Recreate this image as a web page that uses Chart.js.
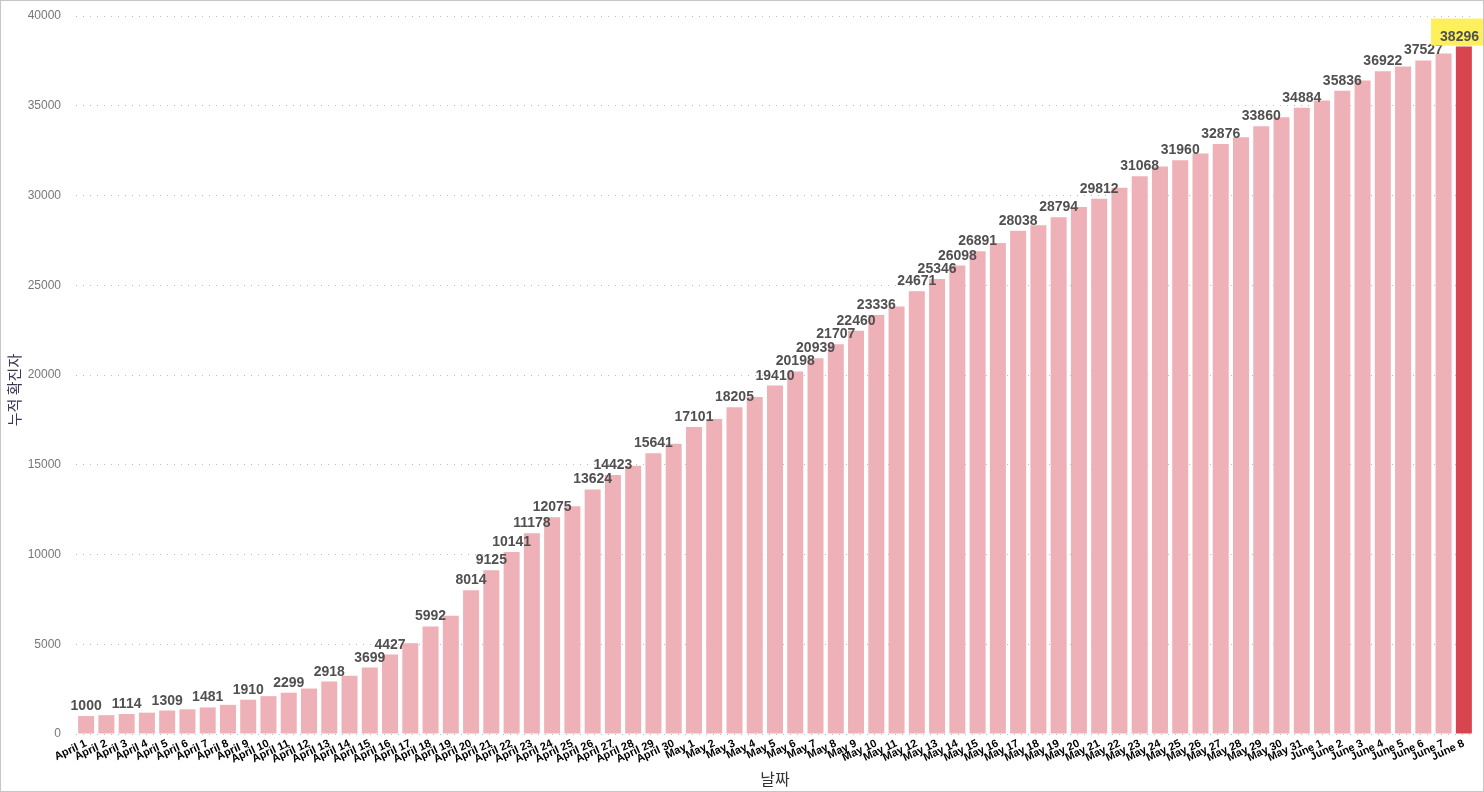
<!DOCTYPE html>
<html>
<head>
<meta charset="utf-8">
<script src="https://cdn.jsdelivr.net/npm/chart.js@4"></script>
<style>
  html, body { margin: 0; padding: 0; background: #fff; }
  #wrap { width: 1484px; height: 792px; box-sizing: border-box; border: 1px solid #c6c6c6; }
  canvas { display: block; }
</style>
</head>
<body>
<div id="wrap"><canvas id="casesChart" width="1482" height="790"></canvas></div>
<script>
// === DATA ===
const dates = [
    'April 1', 'April 2', 'April 3', 'April 4', 'April 5', 'April 6', 'April 7', 'April 8', 'April 9', 'April 10',
    'April 11', 'April 12', 'April 13', 'April 14', 'April 15', 'April 16', 'April 17', 'April 18', 'April 19', 'April 20',
    'April 21', 'April 22', 'April 23', 'April 24', 'April 25', 'April 26', 'April 27', 'April 28', 'April 29', 'April 30',
    'May 1', 'May 2', 'May 3', 'May 4', 'May 5', 'May 6', 'May 7', 'May 8', 'May 9', 'May 10',
    'May 11', 'May 12', 'May 13', 'May 14', 'May 15', 'May 16', 'May 17', 'May 18', 'May 19', 'May 20',
    'May 21', 'May 22', 'May 23', 'May 24', 'May 25', 'May 26', 'May 27', 'May 28', 'May 29', 'May 30', 'May 31',
    'June 1', 'June 2', 'June 3', 'June 4', 'June 5', 'June 6', 'June 7', 'June 8'
];
const cases = [
    1000, 1049, 1114, 1189, 1309, 1375, 1481, 1623, 1910, 2108,
    2299, 2532, 2918, 3252, 3699, 4427, 5050, 5992, 6588, 8014,
    9125, 10141, 11178, 12075, 12693, 13624, 14423, 14951, 15641, 16169,
    17101, 17548, 18205, 18778, 19410, 20198, 20939, 21707, 22460, 23336,
    23822, 24671, 25346, 26098, 26891, 27356, 28038, 28343, 28794, 29364,
    29812, 30426, 31068, 31616, 31960, 32343, 32876, 33249, 33860, 34366, 34884,
    35292, 35836, 36405, 36922, 37183, 37527, 37910, 38296
];
// bars that carry a value label
const labeledDates = [
    'April 1', 'April 3', 'April 5', 'April 7', 'April 9', 'April 11', 'April 13', 'April 15', 'April 16',
    'April 18', 'April 20', 'April 21', 'April 22', 'April 23', 'April 24', 'April 26', 'April 27', 'April 29',
    'May 1', 'May 3', 'May 5', 'May 6', 'May 7', 'May 8', 'May 9', 'May 10', 'May 12', 'May 13', 'May 14',
    'May 15', 'May 17', 'May 19', 'May 21', 'May 23', 'May 25', 'May 27', 'May 29', 'May 31',
    'June 2', 'June 4', 'June 6', 'June 8'
];
const highlightDate = 'June 8';
const yTicks = [0, 5000, 10000, 15000, 20000, 25000, 30000, 35000, 40000];
const yTitle = '누적 확진자';
const xTitle = '날짜';

const barColor = '#eeb1b7';
const highlightColor = '#d9454f';

// value labels above bars + y axis title
const valueLabels = {
    id: 'valueLabels',
    afterDatasetsDraw(chart) {
        const ctx = chart.ctx;
        const meta = chart.getDatasetMeta(0);
        ctx.save();
        ctx.font = 'bold 14px "Liberation Sans", Arial, sans-serif';
        ctx.textAlign = 'center';
        ctx.textBaseline = 'alphabetic';
        dates.forEach((d, i) => {
            if (!labeledDates.includes(d)) return;
            const bar = meta.data[i];
            const text = String(cases[i]);
            const y = bar.y - 6;
            let x = bar.x;
            if (d === highlightDate) {
                const tw = ctx.measureText(text).width;
                // keep the label inside the canvas, like the original
                x = Math.min(x, chart.width - 4 - tw / 2);
                ctx.fillStyle = '#fdf05a';
                ctx.fillRect(x - tw / 2 - 9, y - 22, tw + 30, 27);
            }
            ctx.fillStyle = '#505050';
            ctx.fillText(text, x, y);
        });

        // y title, a bit below the middle as in the original
        ctx.translate(13, 389);
        ctx.rotate(-Math.PI / 2);
        ctx.font = '15px "Noto Sans CJK KR", sans-serif';
        ctx.fillStyle = '#3f3557';
        ctx.textBaseline = 'middle';
        ctx.fillText(yTitle, 0, 0);
        ctx.restore();
    }
};

document.addEventListener('DOMContentLoaded', () => {
    const ctx = document.getElementById('casesChart').getContext('2d');
    new Chart(ctx, {
        type: 'bar',
        data: {
            labels: dates,
            datasets: [{
                label: yTitle,
                data: cases,
                backgroundColor: dates.map(d => d === highlightDate ? highlightColor : barColor),
                barPercentage: 0.79,
                categoryPercentage: 1
            }]
        },
        options: {
            responsive: false,
            devicePixelRatio: 1,
            animation: false,
            layout: { padding: { top: 15, right: 9, left: 0, bottom: 0 } },
            plugins: {
                legend: { display: false },
                tooltip: { enabled: false }
            },
            scales: {
                x: {
                    grid: { display: false, drawTicks: false },
                    border: { display: false },
                    ticks: {
                        color: '#000',
                        font: { family: '"Liberation Sans", Arial, sans-serif', size: 11, weight: 'bold' },
                        autoSkip: false,
                        minRotation: 25,
                        maxRotation: 25,
                        padding: 3
                    },
                    title: {
                        display: true,
                        text: xTitle,
                        color: '#333',
                        font: { family: '"Noto Sans CJK KR", sans-serif', size: 16 },
                        padding: { top: 0, bottom: 2 }
                    },
                    afterFit(scale) { scale.height = 57; }
                },
                y: {
                    min: 0,
                    max: 40000,
                    afterBuildTicks(scale) { scale.ticks = yTicks.map(v => ({ value: v })); },
                    // invisible tick marks give the label gap without extra top padding
                    grid: { color: '#bdbdbd', drawTicks: true, tickLength: 15, tickColor: 'rgba(0,0,0,0)' },
                    border: { display: false, dash: [1, 6] },
                    ticks: {
                        color: '#777',
                        font: { family: '"Liberation Sans", Arial, sans-serif', size: 12 },
                        padding: 0,
                        callback: v => String(v)
                    },
                    afterFit(scale) { scale.width = 75; }
                }
            }
        },
        plugins: [valueLabels]
    });
});
</script>
</body>
</html>
